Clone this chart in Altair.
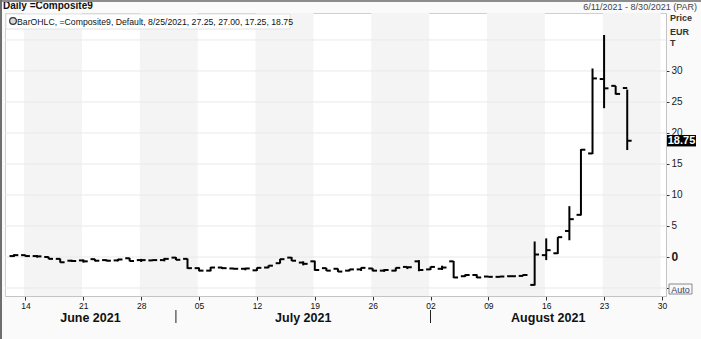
import altair as alt
import pandas as pd

FONT = "Liberation Sans"

# ---- data ----
start_day, last_day, axis_last_day = "2021-06-11", "2021-08-25", "2021-08-30"
opens = [0.15, 0.3, 0.15, 0.0, -0.3, -0.6, -0.55, -0.35, -0.5, -0.55, -0.2, -0.5, -0.55, -0.5,
         -0.1, -0.3, -1.8, -2.2, -1.7, -1.85, -1.9, -2.15, -1.7, -1.0, -0.1, -0.9, -0.7, -1.8,
         -1.9, -2.2, -2.0, -1.85, -2.2, -2.2, -1.6, -0.7, -2.0, -1.9, -0.7, -3.1, -2.9, -3.15,
         -3.2, -3.1, -3.05, -4.5, 0.3, 0.6, 4.2, 6.8, 16.7, 28.7, 27.6, 27.25]
highs = [0.45, 0.35, 0.3, 0.05, -0.25, -0.45, -0.4, -0.3, -0.4, -0.3, -0.15, -0.3, -0.4, -0.15,
         0.0, -0.25, -1.7, -1.6, -1.6, -1.8, -1.75, -1.7, -1.35, -0.3, 0.0, -0.7, -0.6, -1.75,
         -1.85, -1.95, -1.7, -1.8, -1.95, -1.7, -1.55, -0.5, -1.55, -1.4, -0.65, -2.8, -2.8, -3.1,
         -3.1, -3.0, -2.8, 2.5, 3.0, 3.2, 8.2, 17.4, 30.4, 35.8, 27.6, 27.0]
lows = [0.0, 0.05, -0.1, -0.35, -0.9, -0.8, -0.9, -0.7, -0.7, -0.7, -0.7, -0.8, -0.65, -0.7,
        -0.5, -1.9, -2.3, -2.3, -1.95, -2.0, -2.15, -2.25, -1.8, -1.05, -0.65, -1.35, -2.2, -2.25,
        -2.4, -2.3, -2.25, -2.3, -2.4, -2.3, -1.95, -2.3, -2.1, -2.1, -3.4, -3.2, -3.4, -3.25,
        -3.25, -3.2, -3.1, -4.6, -0.5, 0.5, 2.7, 6.7, 16.6, 24.0, 26.2, 17.25]
closes = [0.3, 0.15, 0.1, -0.3, -0.85, -0.65, -0.7, -0.6, -0.6, -0.4, -0.65, -0.5, -0.5, -0.3,
          -0.45, -1.8, -2.2, -1.7, -1.8, -1.9, -1.85, -1.75, -1.4, -0.35, -0.6, -1.1, -2.1, -2.2,
          -2.35, -2.0, -1.75, -2.2, -2.1, -1.75, -1.65, -2.1, -1.6, -1.7, -3.3, -2.9, -3.3, -3.2,
          -3.15, -3.1, -2.9, 0.4, 1.1, 3.2, 6.1, 17.3, 28.8, 27.2, 26.3, 18.75]
y_ticks = [-5, 0, 5, 10, 15, 20, 25, 30]
grid_values = [-5, 0, 5, 10, 15, 20, 25, 30, 35]
header_left = "Daily =Composite9"
header_right = "6/11/2021 - 8/30/2021 (PAR)"
legend_text = "BarOHLC, =Composite9, Default, 8/25/2021, 27.25, 27.00, 17.25, 18.75"
unit_lines = ["Price", "EUR", "T"]
last_label = "18.75"

# ---- tables ----
dates = pd.bdate_range(start_day, last_day)
axis_days = pd.bdate_range(start_day, axis_last_day)
df = pd.DataFrame({"i": list(range(len(dates))), "open": opens, "high": highs,
                   "low": lows, "close": closes})

W, H = 661, 283
X_DOMAIN = [-0.77, 56.35]
Y_DOMAIN = [-6.29, 39.35]
TICK = 0.38

mondays = [k for k, d in enumerate(axis_days) if d.weekday() == 0]
monday_labels = [axis_days[k].strftime("%d") for k in mondays]
bands = pd.DataFrame({"b0": [m - 0.12 for m in mondays[::2]],
                      "b1": [m + 5 - 0.12 for m in mondays[::2]]})

month_starts = [k for k in range(1, len(axis_days)) if axis_days[k].month != axis_days[k - 1].month]
edges = [X_DOMAIN[0]] + month_starts + [X_DOMAIN[1]]
month_names = [axis_days[a].strftime("%B %Y") for a in [0] + month_starts]
months = pd.DataFrame({"mid": [(edges[k] + edges[k + 1]) / 2 for k in range(len(month_names))],
                       "name": month_names})
seps = pd.DataFrame({"pos": month_starts})

xs = alt.Scale(domain=X_DOMAIN, nice=False, zero=False)
ys = alt.Scale(domain=Y_DOMAIN, nice=False, zero=False)

label_expr = "[" + ",".join(f"'{s}'" for s in monday_labels) + "][indexof([" + \
    ",".join(str(m) for m in mondays) + "], datum.value)]"

x_axis = alt.Axis(values=mondays, labelExpr=label_expr, title=None, grid=False,
                  domainColor="#c4c4c4", tickColor="#333333", tickSize=4, labelPadding=1,
                  labelFont=FONT, labelFontSize=8.5, labelColor="#111111", labelFlush=False)
# the -5 label sits under the "Auto" button in the reference, so only its tick shows
y_axis = alt.Axis(orient="right", values=y_ticks, title=None, grid=False,
                  domainColor="#c4c4c4", tickColor="#333333", tickSize=3, labelPadding=2,
                  labelFont=FONT, labelColor="#1a1a1a",
                  labelExpr="datum.value < 0 ? '' : datum.label",
                  labelFontSize={"condition": {"test": "datum.value === 0", "value": 12}, "value": 10},
                  labelFontWeight={"condition": {"test": "datum.value === 0", "value": "bold"}, "value": "normal"})

band_layer = alt.Chart(bands).mark_rect(color="#f4f4f4").encode(
    x=alt.X("b0:Q", scale=xs, axis=x_axis), x2="b1:Q",
    y=alt.value(0), y2=alt.value(H))

grid_layer = alt.Chart(pd.DataFrame({"g": grid_values})).mark_rule(
    color="#e9e9e9", strokeWidth=1).encode(
    y=alt.Y("g:Q", scale=ys, axis=y_axis), x=alt.value(0), x2=alt.value(W))

legend_bg = alt.Chart(pd.DataFrame({"k": [0]})).mark_rect(
    fill="#ffffff", stroke="#e2e2e2", strokeWidth=1).encode(
    x=alt.value(1), x2=alt.value(285), y=alt.value(1), y2=alt.value(16))

hl = alt.Chart(df).mark_rule(color="#000000", strokeWidth=2).encode(
    x=alt.X("i:Q", scale=xs, axis=x_axis),
    y=alt.Y("low:Q", scale=ys, axis=y_axis), y2="high:Q")

open_t = alt.Chart(df).transform_calculate(a=f"datum.i - {TICK}").mark_rule(
    color="#000000", strokeWidth=2).encode(
    x=alt.X("a:Q", scale=xs, axis=x_axis), x2="i:Q", y=alt.Y("open:Q", scale=ys, axis=y_axis))

close_t = alt.Chart(df).transform_calculate(b=f"datum.i + {TICK}").mark_rule(
    color="#000000", strokeWidth=2).encode(
    x=alt.X("i:Q", scale=xs, axis=x_axis), x2="b:Q", y=alt.Y("close:Q", scale=ys, axis=y_axis))

month_text = alt.Chart(months).mark_text(font=FONT, fontSize=12.5, fontWeight="bold",
                                         color="#111111", baseline="middle").encode(
    x=alt.X("mid:Q", scale=xs, axis=x_axis), y=alt.value(305), text="name:N")

sep_rule = alt.Chart(seps).mark_rule(color="#222222", strokeWidth=1).encode(
    x=alt.X("pos:Q", scale=xs, axis=x_axis), y=alt.value(297), y2=alt.value(310))

last = df.tail(1)
last_box = alt.Chart(last).transform_calculate(
    t="datum.close + 0.92", u="datum.close - 0.92").mark_rect(color="#000000").encode(
    x=alt.value(662), x2=alt.value(691), y=alt.Y("t:Q", scale=ys, axis=y_axis), y2="u:Q")
last_txt = alt.Chart(last).transform_calculate(lbl=f"'{last_label}'").mark_text(
    font=FONT, fontSize=11, fontWeight="bold", color="#ffffff", align="center",
    baseline="middle").encode(x=alt.value(676.5), y=alt.Y("close:Q", scale=ys, axis=y_axis),
                              text="lbl:N")

hdr_left = alt.Chart(pd.DataFrame({"t": [header_left]})).mark_text(
    font=FONT, fontSize=10, fontWeight="bold", color="#111111", align="left",
    baseline="middle").encode(x=alt.value(-2), y=alt.value(-7), text="t:N")
hdr_right = alt.Chart(pd.DataFrame({"t": [header_right]})).mark_text(
    font=FONT, fontSize=9, color="#444444", align="right",
    baseline="middle").encode(x=alt.value(692), y=alt.value(-6.5), text="t:N")
leg_txt = alt.Chart(pd.DataFrame({"t": [legend_text]})).mark_text(
    font=FONT, fontSize=8.7, color="#111111", align="left",
    baseline="middle").encode(x=alt.value(12), y=alt.value(9), text="t:N")
leg_icon = alt.Chart(pd.DataFrame({"k": [0]})).mark_point(
    shape="circle", size=45, filled=True, fill="#d8d8d8", stroke="#333333",
    strokeWidth=1.2, opacity=1).encode(x=alt.value(8), y=alt.value(8))
units = alt.Chart(pd.DataFrame({"t": unit_lines, "yy": [5, 19, 30]})).mark_text(
    font=FONT, fontSize=9, fontWeight="bold", color="#333333", align="left",
    baseline="middle").encode(x=alt.value(665), y=alt.Y("yy:Q", scale=None), text="t:N")

auto_box = alt.Chart(pd.DataFrame({"k": [0]})).mark_rect(
    fill="#f8f8f8", stroke="#8a8a8a", strokeWidth=1).encode(
    x=alt.value(664), x2=alt.value(687), y=alt.value(271), y2=alt.value(281))
auto_txt = alt.Chart(pd.DataFrame({"t": ["Auto"]})).mark_text(
    font=FONT, fontSize=9, color="#334466", align="center", baseline="middle").encode(
    x=alt.value(675.5), y=alt.value(276.5), text="t:N")

top_line = alt.Chart(pd.DataFrame({"k": [0]})).mark_rule(color="#8c8c8c", strokeWidth=2).encode(
    x=alt.value(-5), x2=alt.value(696), y=alt.value(-12))
left_line = alt.Chart(pd.DataFrame({"k": [0]})).mark_rule(color="#6e6e6e", strokeWidth=2).encode(
    x=alt.value(-4), y=alt.value(-13), y2=alt.value(326))

chart = alt.layer(
    band_layer, grid_layer, legend_bg, hl, open_t, close_t, month_text, sep_rule,
    last_box, last_txt, hdr_left, hdr_right, leg_icon, leg_txt, units, auto_box, auto_txt,
    top_line, left_line
).properties(
    width=W, height=H,
    autosize=alt.AutoSizeParams(type="none"),
    padding={"left": 5, "top": 13, "right": 35, "bottom": 43},
    background="#fafafa"
).configure_view(
    fill="#ffffff", stroke="#cfcfcf", strokeWidth=1
)

chart.save("out.html", embed_options={"renderer": "svg", "actions": False})
